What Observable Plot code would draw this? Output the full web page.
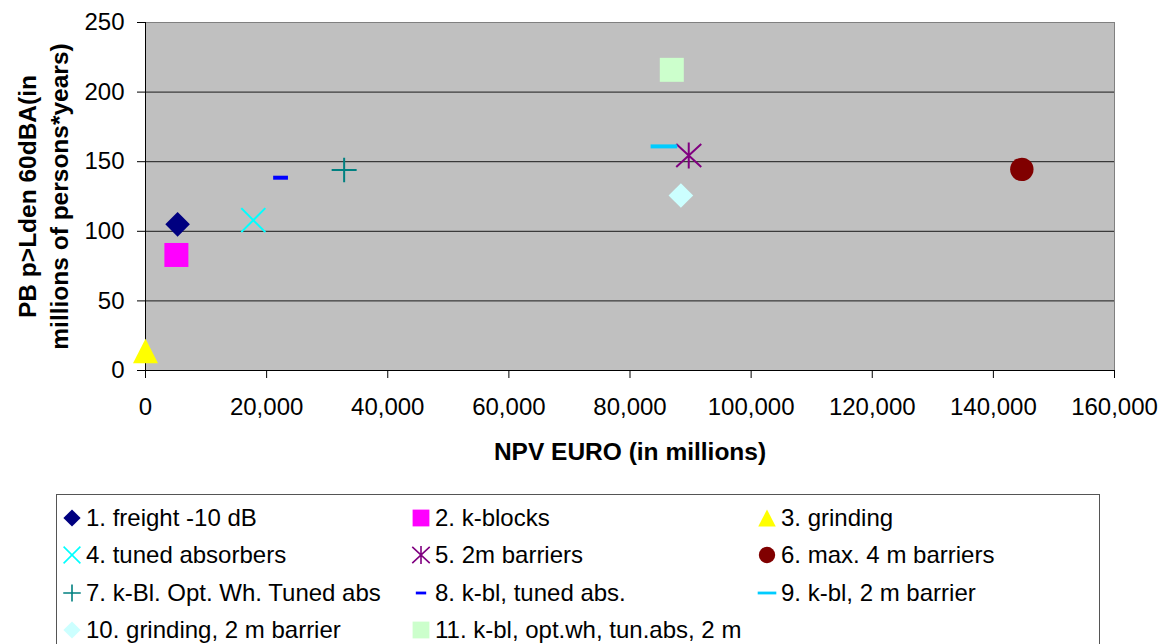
<!DOCTYPE html>
<html><head><meta charset="utf-8">
<script src="https://cdn.jsdelivr.net/npm/d3@7"></script>
<script src="https://cdn.jsdelivr.net/npm/@observablehq/plot@0.6"></script>
<style>
body{margin:0;background:#fff;font-family:"Liberation Sans",Arial,sans-serif;}
#legend{position:relative;margin-left:56px;margin-top:14px;width:1044px;height:170px;border:1px solid #555;box-sizing:border-box;}
.item{position:absolute;display:flex;align-items:center;font-size:24px;color:#000;white-space:nowrap;transform:translateY(-50%);line-height:1}
.item svg{margin-right:4px;overflow:visible}
</style></head><body>
<div id="chart"></div><div id="legend"></div>
<script>
// ---- data ----
const seriesNames = [
  "1. freight -10 dB", "2. k-blocks", "3. grinding",
  "4. tuned absorbers", "5. 2m barriers", "6. max. 4 m barriers",
  "7. k-Bl. Opt. Wh. Tuned abs", "8. k-bl, tuned abs.", "9. k-bl, 2 m barrier",
  "10. grinding, 2 m barrier", "11. k-bl, opt.wh, tun.abs, 2 m"
];
const npvEuro = [5300, 5100, 0, 17800, 89700, 144700, 32800, 22300, 85600, 88400, 86900];
const pbPersonsYears = [105, 83, 14, 108, 154.5, 144.5, 144, 138.5, 161, 125.7, 216];
const xTicks = [0, 20000, 40000, 60000, 80000, 100000, 120000, 140000, 160000];
const yTicks = [0, 50, 100, 150, 200, 250];
const gridTicks = [50, 100, 150, 200];
const xTitle = "NPV EURO (in millions)";
const yTitle = "PB p>Lden 60dBA(in\nmillions of persons*years)";

// ---- styles ----
const colors = ["#000080", "#FF00FF", "#FFFF00", "#00FFFF", "#800080", "#800000",
                "#008080", "#0000FF", "#00CCFF", "#CCFFFF", "#CCFFCC"];
function shape(fn) { return { draw(c, size) { const k = Math.sqrt(size / Math.PI) / 12; fn(c, k); } }; }
const symDiamond = shape((c, k) => { c.moveTo(0, -12.3 * k); c.lineTo(12.3 * k, 0); c.lineTo(0, 12.3 * k); c.lineTo(-12.3 * k, 0); c.closePath(); });
const symSquare = shape((c, k) => { c.moveTo(-12 * k, -12 * k); c.lineTo(12 * k, -12 * k); c.lineTo(12 * k, 12 * k); c.lineTo(-12 * k, 12 * k); c.closePath(); });
const symTriangle = shape((c, k) => { c.moveTo(0, -12.3 * k); c.lineTo(12.5 * k, 12.3 * k); c.lineTo(-12.5 * k, 12.3 * k); c.closePath(); });
const symTimes = shape((c, k) => { c.moveTo(-12 * k, -12 * k); c.lineTo(12 * k, 12 * k); c.moveTo(-12 * k, 12 * k); c.lineTo(12 * k, -12 * k); });
const symAsterisk = shape((c, k) => { c.moveTo(-12.5 * k, -11.5 * k); c.lineTo(12.5 * k, 11.5 * k); c.moveTo(-12.5 * k, 11.5 * k); c.lineTo(12.5 * k, -11.5 * k); c.moveTo(0, -13 * k); c.lineTo(0, 13 * k); });
const symCircle = shape((c, k) => { const r = 11.7 * k; c.moveTo(r, 0); c.arc(0, 0, r, 0, 2 * Math.PI); });
const symPlus = shape((c, k) => { c.moveTo(-12.5 * k, 0); c.lineTo(12.5 * k, 0); c.moveTo(0, -12.3 * k); c.lineTo(0, 12.3 * k); });
const symDashShort = shape((c, k) => { c.moveTo(-7.4 * k, -2 * k); c.lineTo(7.4 * k, -2 * k); c.lineTo(7.4 * k, 2 * k); c.lineTo(-7.4 * k, 2 * k); c.closePath(); });
const symDashLong = shape((c, k) => { c.moveTo(-13.3 * k, -2 * k); c.lineTo(13.3 * k, -2 * k); c.lineTo(13.3 * k, 2 * k); c.lineTo(-13.3 * k, 2 * k); c.closePath(); });
const symbols = [symDiamond, symSquare, symTriangle, symTimes, symAsterisk, symCircle,
                 symPlus, symDashShort, symDashLong, symDiamond, symSquare];
const filled = [true, true, true, false, false, true, false, true, true, true, true];

const font = "'Liberation Sans', Arial, sans-serif";

const dotMarks = seriesNames.map((name, i) => Plot.dot([i], {
  x: j => npvEuro[j], y: j => pbPersonsYears[j],
  symbol: symbols[i], r: 12,
  fill: filled[i] ? colors[i] : "none",
  stroke: filled[i] ? "none" : colors[i],
  strokeWidth: 2
}));

const chart = Plot.plot({
  width: 1176, height: 480,
  marginLeft: 145, marginRight: 62, marginTop: 22, marginBottom: 110,
  x: { domain: [0, 160000] },
  y: { domain: [0, 250] },
  style: { fontFamily: font, fontSize: "24px", color: "#000", background: "#fff", overflow: "visible" },
  marks: [
    Plot.frame({ fill: "#c0c0c0", stroke: "#808080" }),
    Plot.gridY(gridTicks, { stroke: "#1a1a1a", strokeOpacity: 1 }),
    Plot.axisX(xTicks, { tickSize: 8, tickPadding: 19, tickFormat: d3.format(","), label: null, fontSize: 24 }),
    Plot.axisY(yTicks, { tickSize: 8, tickPadding: 13, label: null, fontSize: 24 }),
    Plot.ruleY([0], { stroke: "#000" }),
    Plot.ruleX([0], { stroke: "#000" }),
    ...dotMarks,
    Plot.text([xTitle], { text: d => d, frameAnchor: "bottom", dy: 82, lineAnchor: "middle", textAnchor: "middle", fontWeight: "bold", fontSize: 24.5 }),
    Plot.text([yTitle], { text: d => d, frameAnchor: "left", dx: -104, rotate: -90, textAnchor: "middle", lineAnchor: "middle", fontWeight: "bold", fontSize: 24.5, lineHeight: 1.33 })
  ]
});
document.getElementById("chart").appendChild(chart);

// ---- legend ----
const legend = document.getElementById("legend");
const colLeft = [5, 354, 700];
const rowTop = [22.5, 60, 97.5, 135];
seriesNames.forEach((name, i) => {
  const item = document.createElement("div");
  item.className = "item";
  item.style.left = colLeft[i % 3] + "px";
  item.style.top = rowTop[Math.floor(i / 3)] + "px";
  const r = 8.4;
  const path = d3.symbol(symbols[i], Math.PI * r * r)();
  const svg = `<svg width="20" height="20" viewBox="-10 -10 20 20"><path d="${path}" fill="${filled[i] ? colors[i] : "none"}" stroke="${filled[i] ? "none" : colors[i]}" stroke-width="1.6"/></svg>`;
  item.innerHTML = svg + `<span>${name}</span>`;
  legend.appendChild(item);
});
</script>
</body></html>
